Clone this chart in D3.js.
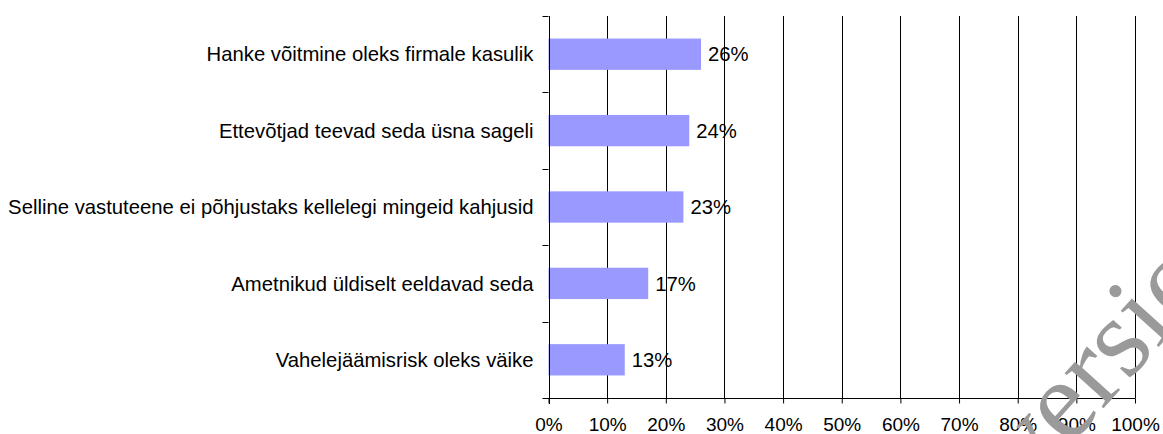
<!DOCTYPE html>
<html>
<head>
<meta charset="utf-8">
<script src="https://cdn.jsdelivr.net/npm/d3@7"></script>
<style type="text/css">
body {
	margin: 0;
	background: #fff;
}
text {
	font-family: "Liberation Sans", Arial, sans-serif;
	font-size: 20.3px;
	fill: #000;
}
.watermark {
	font-family: "Liberation Serif", "Times New Roman", serif;
	font-size: 114px;
	fill: #9a9a9a;
}
</style>
</head>
<body>
<div id="chart"></div>
<script type="text/javascript">
// data
var categories = [
	"Hanke võitmine oleks firmale kasulik",
	"Ettevõtjad teevad seda üsna sageli",
	"Selline vastuteene ei põhjustaks kellelegi mingeid kahjusid",
	"Ametnikud üldiselt eeldavad seda",
	"Vahelejäämisrisk oleks väike"
];
var values = [26, 24, 23, 17, 13];
var tickValues = [0, 10, 20, 30, 40, 50, 60, 70, 80, 90, 100];

var width = 1163, height = 434;
var margin = {top: 16, right: 28, bottom: 36, left: 548.5};

var svg = d3.select("#chart").append("svg")
	.attr("width", width)
	.attr("height", height);

var x = d3.scaleLinear().domain([0, 100]).range([margin.left, width - margin.right]);
var y = d3.scaleBand().domain(categories)
	.range([margin.top, height - margin.bottom])
	.paddingInner(0.59).paddingOuter(0.295);

var plotTop = margin.top, plotBottom = height - margin.bottom;

// vertical grid lines
svg.append("g").selectAll("line")
	.data(tickValues.slice(1))
	.enter().append("line")
	.attr("x1", function(d){ return Math.round(x(d)) + 0.5; })
	.attr("x2", function(d){ return Math.round(x(d)) + 0.5; })
	.attr("y1", plotTop)
	.attr("y2", plotBottom)
	.style("stroke", "#000")
	.style("stroke-width", 1);

// bars
svg.append("g").selectAll("rect")
	.data(values)
	.enter().append("rect")
	.attr("x", x(0))
	.attr("y", function(d, i){ return y(categories[i]); })
	.attr("width", function(d){ return x(d) - x(0); })
	.attr("height", y.bandwidth())
	.style("fill", "#9999ff");

// value labels
svg.append("g").selectAll("text")
	.data(values)
	.enter().append("text")
	.attr("x", function(d){ return x(d) + 7; })
	.attr("y", function(d, i){ return y(categories[i]) + y.bandwidth() / 2; })
	.attr("dy", "0.35em")
	.text(function(d){ return d + "%"; });

// bottom axis
var xAxis = d3.axisBottom(x)
	.tickValues(tickValues)
	.tickSize(5)
	.tickPadding(14)
	.tickFormat(function(d){ return d + "%"; });
var gx = svg.append("g")
	.attr("transform", "translate(0," + (plotBottom + 0.5) + ")")
	.call(xAxis);
gx.select(".domain").attr("d", "M" + (x(0) - 6) + ",0H" + (x(100) + 0.5));
gx.selectAll("text").style("font-family", "Liberation Sans, Arial, sans-serif").style("font-size", "19px");

// left axis: line + ticks between categories, labels centred on bars
var yBounds = d3.range(categories.length + 1).map(function(i){
	return plotTop + i * (plotBottom - plotTop) / categories.length;
});
var gy = svg.append("g");
gy.append("line")
	.attr("x1", Math.round(x(0)) + 0.5).attr("x2", Math.round(x(0)) + 0.5)
	.attr("y1", plotTop).attr("y2", plotBottom + 6)
	.style("stroke", "#000");
gy.selectAll(".tick").data(yBounds.slice(0, -1))
	.enter().append("line")
	.attr("x1", x(0) - 6).attr("x2", x(0))
	.attr("y1", function(d){ return Math.round(d) + 0.5; })
	.attr("y2", function(d){ return Math.round(d) + 0.5; })
	.style("stroke", "#000");
gy.selectAll("text").data(categories)
	.enter().append("text")
	.attr("x", x(0) - 15)
	.attr("y", function(d){ return y(d) + y.bandwidth() / 2; })
	.attr("dy", "0.35em")
	.attr("text-anchor", "end")
	.text(function(d){ return d; });

// watermark over the plot
svg.append("text")
	.attr("class", "watermark")
	.attr("transform", "translate(1030,490) rotate(-48)")
	.text("version");
</script>
</body>
</html>
